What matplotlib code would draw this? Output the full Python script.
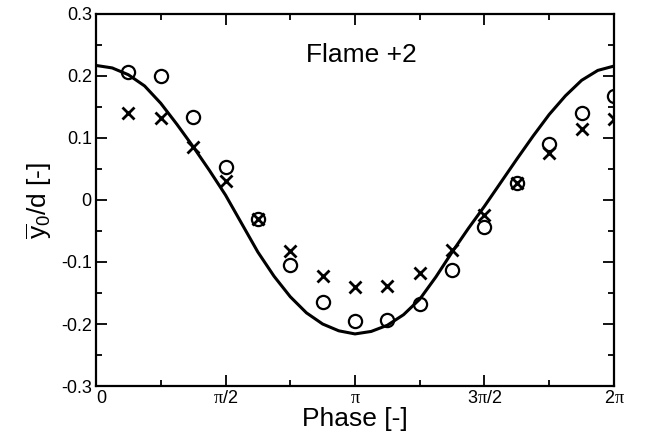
import numpy as np
import matplotlib
matplotlib.use("Agg")
import matplotlib.pyplot as plt
from matplotlib.ticker import MultipleLocator, FixedLocator

plt.rcParams['font.family'] = ['Liberation Sans', 'DejaVu Sans']
plt.rcParams['mathtext.fontset'] = 'custom'
plt.rcParams['mathtext.rm'] = 'Liberation Sans'
plt.rcParams['mathtext.it'] = 'Liberation Serif'

# measured points at phase k*pi/8, k = 1..16
phase_k = np.arange(1, 17)
circles = [0.206, 0.200, 0.134, 0.054, -0.030, -0.105, -0.164, -0.195,
           -0.194, -0.168, -0.113, -0.043, 0.028, 0.091, 0.140, 0.167]
crosses = [0.140, 0.132, 0.086, 0.030, -0.030, -0.082, -0.123, -0.141,
           -0.139, -0.118, -0.080, -0.024, 0.028, 0.076, 0.114, 0.130]

# model curve read at phase k*pi/16, k = 0..32
curve_k = np.arange(0, 33)
curve = [0.217, 0.213, 0.202, 0.184, 0.156, 0.122, 0.086, 0.048, 0.008,
         -0.038, -0.084, -0.123, -0.156, -0.182, -0.200, -0.211, -0.216,
         -0.212, -0.202, -0.185, -0.160, -0.124, -0.084, -0.046, -0.010,
         0.028, 0.066, 0.103, 0.138, 0.168, 0.193, 0.209, 0.216]

fig = plt.figure(figsize=(6.5, 4.41), dpi=100)
ax = fig.add_axes([0.1477, 0.1247, 0.7969, 0.8436])

ax.plot(curve_k * np.pi / 16, curve, color='black', lw=2.2, zorder=3)
ax.plot(phase_k * np.pi / 8, circles, linestyle='none', marker='o', ms=9.5,
        mfc='none', mec='black', mew=1.6, zorder=4)
ax.plot(phase_k * np.pi / 8, crosses, linestyle='none', marker='x', ms=8,
        mec='black', mew=2.0, zorder=4)

ax.set_xlim(0, 2 * np.pi)
ax.set_ylim(-0.3, 0.3)

ax.xaxis.set_major_locator(FixedLocator([0, np.pi / 2, np.pi, 3 * np.pi / 2, 2 * np.pi]))
ax.xaxis.set_minor_locator(FixedLocator([np.pi / 4, 3 * np.pi / 4, 5 * np.pi / 4, 7 * np.pi / 4]))
ax.set_xticklabels(['0', r'$\pi\mathrm{/2}$', r'$\pi$', r'$\mathrm{3}\pi\mathrm{/2}$', r'$\mathrm{2}\pi$'])
ax.yaxis.set_major_locator(MultipleLocator(0.1))
ax.yaxis.set_minor_locator(MultipleLocator(0.05))
ax.set_yticks(np.round(np.arange(-0.3, 0.31, 0.1), 1))
ax.set_yticklabels(['-0.3', '-0.2', '-0.1', '0', '0.1', '0.2', '0.3'])

ax.tick_params(which='both', direction='in', top=True, right=True, labelsize=13, width=1.3)
ax.tick_params(which='major', length=8, pad=3)
ax.tick_params(which='minor', length=4)
for lbl in ax.get_xticklabels():
    lbl.set_horizontalalignment('left' if lbl.get_text() == '0' else 'center')
for s in ax.spines.values():
    s.set_linewidth(1.6)

ax.set_xlabel('Phase [-]', fontsize=19, labelpad=0)
ax.set_ylabel(r'$\overline{\mathrm{y}}_{\mathrm{0}}$/d [-]', fontsize=19, labelpad=5)
ax.text(0.513, 0.89, 'Flame +2', transform=ax.transAxes, fontsize=19,
        ha='center', va='center')

fig.savefig('out.png', dpi=100)
